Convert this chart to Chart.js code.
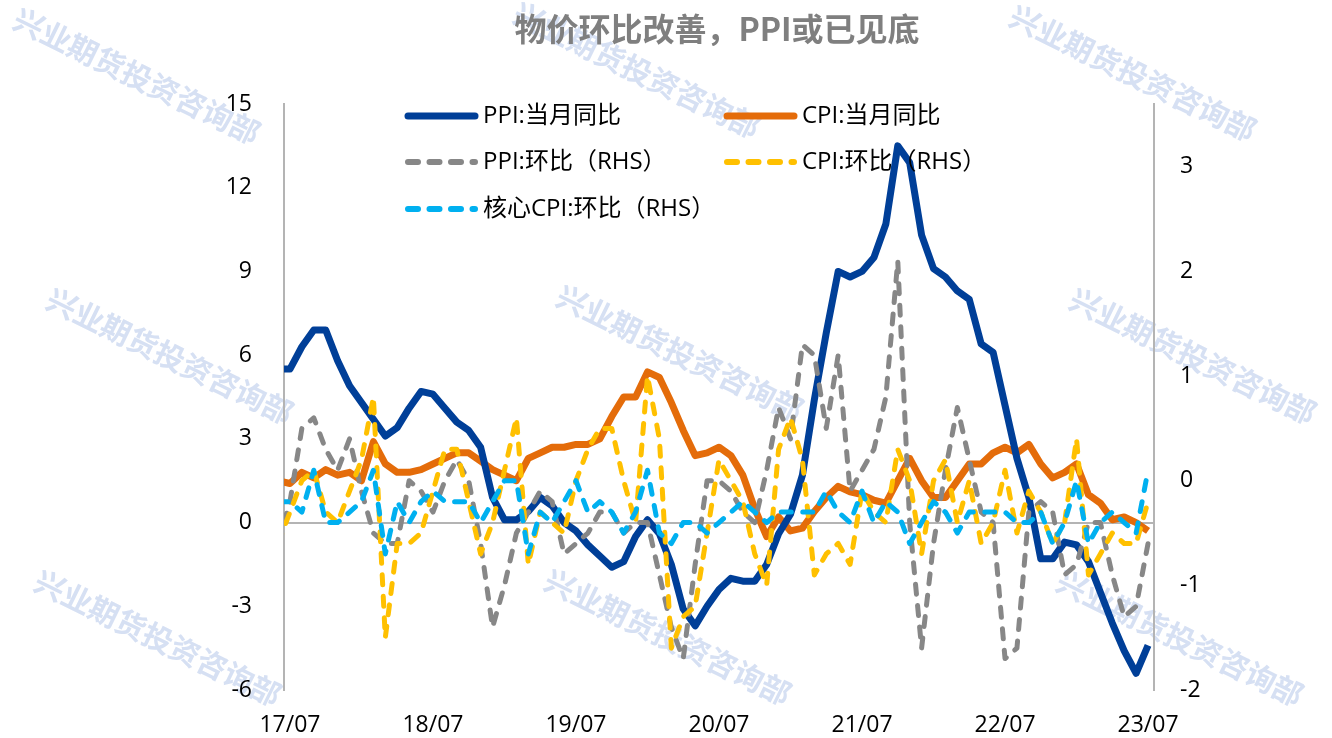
<!DOCTYPE html>
<html>
<head>
<meta charset="utf-8">
<script src="https://cdn.jsdelivr.net/npm/chart.js@4.4.0/dist/chart.umd.min.js"></script>
<style>
html,body{margin:0;padding:0;background:#ffffff;}
canvas{display:block;}
</style>
</head>
<body>
<canvas id="c" width="1332" height="738"></canvas>
<script>
// ---- categories (monthly, 17/06 is just before the visible range and is clipped at the left edge)
const months = ['17/06','17/07','17/08','17/09','17/10','17/11','17/12',
  '18/01','18/02','18/03','18/04','18/05','18/06','18/07','18/08','18/09','18/10','18/11','18/12',
  '19/01','19/02','19/03','19/04','19/05','19/06','19/07','19/08','19/09','19/10','19/11','19/12',
  '20/01','20/02','20/03','20/04','20/05','20/06','20/07','20/08','20/09','20/10','20/11','20/12',
  '21/01','21/02','21/03','21/04','21/05','21/06','21/07','21/08','21/09','21/10','21/11','21/12',
  '22/01','22/02','22/03','22/04','22/05','22/06','22/07','22/08','22/09','22/10','22/11','22/12',
  '23/01','23/02','23/03','23/04','23/05','23/06','23/07'];
const xTickLabels = ['17/07','18/07','19/07','20/07','21/07','22/07','23/07'];
const leftTicks = [-6,-3,0,3,6,9,12,15];
const rightTickValues = [-1.6,-0.6,0.4,1.4,2.4,3.4];
const rightTickLabels = ['-2','-1','0','1','2','3'];

// ---- series (left axis)
const ppiYoY = [5.5,
  5.5,6.3,6.9,6.9,5.8,4.9,
  4.3,3.7,3.1,3.4,4.1,4.7,4.6,4.1,3.6,3.3,2.7,0.9,
  0.1,0.1,0.4,0.9,0.6,0.0,-0.3,-0.8,-1.2,-1.6,-1.4,-0.5,
  0.1,-0.4,-1.5,-3.1,-3.7,-3.0,-2.4,-2.0,-2.1,-2.1,-1.5,-0.4,
  0.3,1.7,4.4,6.8,9.0,8.8,9.0,9.5,10.7,13.5,12.9,10.3,
  9.1,8.8,8.3,8.0,6.4,6.1,4.2,2.3,0.9,-1.3,-1.3,-0.7,
  -0.8,-1.4,-2.5,-3.6,-4.6,-5.4,-4.4];
const cpiYoY = [1.5,
  1.4,1.8,1.6,1.9,1.7,1.8,
  1.5,2.9,2.1,1.8,1.8,1.9,2.1,2.3,2.5,2.5,2.2,1.9,
  1.7,1.5,2.3,2.5,2.7,2.7,2.8,2.8,3.0,3.8,4.5,4.5,
  5.4,5.2,4.3,3.3,2.4,2.5,2.7,2.4,1.7,0.5,-0.5,0.2,
  -0.3,-0.2,0.4,0.9,1.3,1.1,1.0,0.8,0.7,1.5,2.3,1.5,
  0.9,0.9,1.5,2.1,2.1,2.5,2.7,2.5,2.8,2.1,1.6,1.8,
  2.1,1.0,0.7,0.1,0.2,0.0,-0.3];
// ---- series (right axis)
const ppiMoM = [-0.2,
  0.2,0.9,1.0,0.7,0.5,0.8,
  0.3,-0.1,-0.2,-0.2,0.4,0.3,0.1,0.4,0.6,0.4,-0.2,-1.0,
  -0.6,-0.1,0.1,0.3,0.2,-0.3,-0.2,-0.1,0.1,0.1,-0.1,0.0,
  0.0,-0.5,-1.0,-1.3,-0.4,0.4,0.4,0.3,0.1,0.0,0.5,1.1,
  0.8,1.7,1.6,0.9,1.6,0.3,0.5,0.7,1.2,2.5,0.0,-1.2,
  -0.2,0.5,1.1,0.6,0.1,0.0,-1.3,-1.2,0.1,0.2,0.1,-0.5,
  -0.4,0.0,0.0,-0.5,-0.9,-0.8,-0.2];
const cpiMoM = [-0.2,
  0.1,0.4,0.5,0.1,0.0,0.3,
  0.6,1.2,-1.1,-0.2,-0.2,-0.1,0.3,0.7,0.7,0.2,-0.3,0.0,
  0.5,1.0,-0.4,0.1,0.0,-0.1,0.4,0.7,0.9,0.9,0.4,0.0,
  1.4,0.8,-1.2,-0.9,-0.8,-0.1,0.6,0.4,0.2,-0.3,-0.6,0.7,
  1.0,0.6,-0.5,-0.3,-0.2,-0.4,0.3,0.1,0.0,0.7,0.4,-0.3,
  0.4,0.6,0.0,0.4,-0.2,0.0,0.5,-0.1,0.3,0.1,-0.2,0.0,
  0.8,-0.5,-0.3,-0.1,-0.2,-0.2,0.2];
const coreMoM = [0.2,
  0.2,0.1,0.5,0.0,0.0,0.1,
  0.2,0.5,-0.3,0.2,0.0,0.2,0.3,0.2,0.2,0.2,0.0,0.2,
  0.4,0.4,-0.3,0.1,0.0,0.2,0.4,0.1,0.2,0.1,-0.1,0.1,
  0.5,-0.1,-0.2,0.0,0.0,-0.1,0.0,0.1,0.2,0.1,0.0,0.1,
  0.1,0.1,0.1,0.3,0.1,0.0,0.3,0.0,0.2,0.1,-0.2,0.0,
  0.2,0.1,-0.1,0.1,0.1,0.1,0.1,0.0,0.0,0.1,-0.2,0.0,
  0.4,-0.2,0.0,0.1,0.0,-0.1,0.5];

const seriesNames = ['PPI:当月同比','CPI:当月同比','PPI:环比（RHS）','CPI:环比（RHS）','核心CPI:环比（RHS）'];
const seriesColors = ['#003f98','#e46c0a','#878787','#ffc000','#00b0f0'];

const FONT = '"Open Sans", "Noto Sans CJK SC", sans-serif';
const CJK = '"Noto Sans CJK SC", sans-serif';
const SOLID_W = 7, DASH_W = 5, DASH = [10, 11.5];

function pts(arr){ return arr.map((v,i)=>({x:i, y:v})); }

const watermarkText = '兴业期货投资咨询部';
const watermarkCenters = [[137,76],[637,70],[1133,73],[170,356],[680,353],[1193,356],[158,638],[668,637],[1180,638]];

const decor = {
  id: 'decor',
  beforeDraw(chart){
    const ctx = chart.ctx;
    ctx.save();
    ctx.fillStyle = '#ffffff';
    ctx.fillRect(0,0,chart.width,chart.height);
    ctx.font = 'bold 30px ' + CJK;
    ctx.fillStyle = '#d6e0f3';
    ctx.textAlign = 'center';
    ctx.textBaseline = 'middle';
    watermarkCenters.forEach(([cx,cy])=>{
      ctx.save();
      ctx.translate(cx,cy);
      ctx.rotate(26*Math.PI/180);
      ctx.fillText(watermarkText,0,0);
      ctx.restore();
    });
    ctx.restore();
  },
  afterDraw(chart){
    const ctx = chart.ctx;
    ctx.save();
    // title
    ctx.font = 'bold 32px ' + CJK;
    ctx.fillStyle = '#7f7f7f';
    ctx.textAlign = 'center';
    ctx.textBaseline = 'middle';
    ctx.fillText('物价环比改善，PPI或已见底', 717, 29);
    // legend
    const items = [
      {i:0, x:405, y:116}, {i:1, x:724, y:116},
      {i:2, x:405, y:162}, {i:3, x:724, y:162},
      {i:4, x:405, y:209}
    ];
    items.forEach(it=>{
      const dashed = it.i >= 2;
      ctx.beginPath();
      ctx.strokeStyle = seriesColors[it.i];
      ctx.lineWidth = dashed ? DASH_W+1 : SOLID_W;
      ctx.lineCap = 'round';
      ctx.setLineDash(dashed ? DASH : []);
      ctx.moveTo(it.x+3, it.y);
      ctx.lineTo(it.x+70, it.y);
      ctx.stroke();
      ctx.setLineDash([]);
      ctx.font = '24px ' + FONT;
      ctx.fillStyle = '#000000';
      ctx.textAlign = 'left';
      ctx.textBaseline = 'middle';
      ctx.fillText(seriesNames[it.i], it.x+78, it.y);
    });
    ctx.restore();
  }
};

const lineDs = (k, data, axis, dashed, order) => ({
  label: seriesNames[k],
  data: pts(data),
  yAxisID: axis,
  borderColor: seriesColors[k],
  backgroundColor: seriesColors[k],
  borderWidth: dashed ? DASH_W : SOLID_W,
  borderDash: dashed ? DASH : [],
  borderCapStyle: dashed ? 'round' : 'butt',
  borderJoinStyle: 'round',
  pointRadius: 0,
  tension: 0,
  fill: false,
  order: order
});

new Chart(document.getElementById('c'), {
  type: 'line',
  data: {
    datasets: [
      lineDs(0, ppiYoY, 'y', false, 3),
      lineDs(1, cpiYoY, 'y', false, 4),
      lineDs(2, ppiMoM, 'y1', true, 2),
      lineDs(3, cpiMoM, 'y1', true, 1),
      lineDs(4, coreMoM, 'y1', true, 0)
    ]
  },
  options: {
    responsive: false,
    animation: false,
    devicePixelRatio: 1,
    layout: { padding: { top: 104, left: 0, right: 0, bottom: 0 } },
    plugins: { legend: { display: false }, title: { display: false }, tooltip: { enabled: false } },
    scales: {
      x: {
        type: 'linear',
        min: 0.5,
        max: 73.5,
        grid: { display: false },
        border: { display: false },
        afterBuildTicks: (s) => { s.ticks = xTickLabels.map(l => ({ value: months.indexOf(l) })); },
        ticks: {
          autoSkip: false, maxRotation: 0, padding: 14, color: '#000000',
          font: { family: FONT, size: 23 },
          callback: (v) => months[v]
        },
        afterFit: (s) => { s.height = 48; }
      },
      y: {
        position: 'left',
        min: -6, max: 15,
        afterBuildTicks: (s) => { s.ticks = leftTicks.map(v => ({ value: v })); },
        grid: {
          drawTicks: false,
          lineWidth: 2,
          color: (c) => (c.tick && c.tick.value === 0) ? '#b4b4b4' : 'rgba(0,0,0,0)'
        },
        border: { display: true, color: '#b4b4b4', width: 2 },
        ticks: { padding: 32, color: '#000000', font: { family: FONT, size: 23 } },
        afterFit: (s) => { s.width = 284; }
      },
      y1: {
        position: 'right',
        min: -1.6, max: 4.0,
        afterBuildTicks: (s) => { s.ticks = rightTickValues.map(v => ({ value: v })); },
        grid: { display: false, drawTicks: false },
        border: { display: true, color: '#b4b4b4', width: 2 },
        ticks: {
          padding: 26, color: '#000000', font: { family: FONT, size: 23 },
          callback: (v) => rightTickLabels[rightTickValues.findIndex(t => Math.abs(t - v) < 1e-6)]
        },
        afterFit: (s) => { s.width = 178; }
      }
    }
  },
  plugins: [decor]
});
</script>
</body>
</html>
